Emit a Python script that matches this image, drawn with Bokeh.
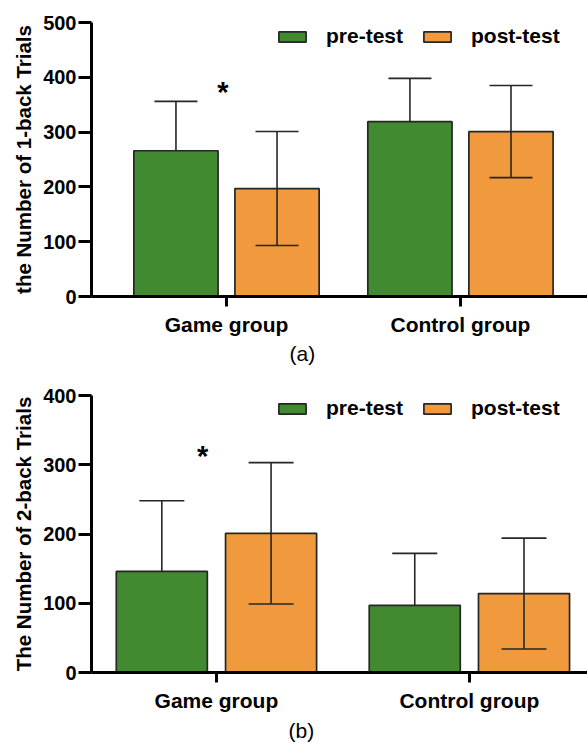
from bokeh.plotting import figure
from bokeh.models import (Range1d, FixedTicker, Whisker, TeeHead, ColumnDataSource,
                          Title)
from bokeh.layouts import column
from bokeh.core.properties import value
from bokeh.embed import file_html
from bokeh.resources import INLINE

# ---------------- data ----------------
groups = ["Game group", "Control group"]
series = ["pre-test", "post-test"]

# (a) 1-back trials
a_pre_mean = [266, 319]
a_pre_sd = [90, 79]
a_post_mean = [197, 301]
a_post_sd = [104, 84]
a_yticks = [0, 100, 200, 300, 400, 500]
a_star_x = [-0.015]
a_star_y = [374]

# (b) 2-back trials
b_pre_mean = [146, 97]
b_pre_sd = [102, 75]
b_post_mean = [201, 114]
b_post_sd = [102, 80]
b_yticks = [0, 100, 200, 300, 400]
b_star_x = [-0.055]
b_star_y = [312]

GREEN = "#418a2f"
ORANGE = "#f09a3d"
EDGE = "#262626"
FONT = "Liberation Sans"


def make_panel(pre_mean, pre_sd, post_mean, post_sd, yticks, ylabel, star_x, star_y,
               tag, tag_offset, tag_standoff, height, bt, frame_h, bl, xr, head, legend_y):
    width = 587
    p = figure(width=width, height=height, output_backend="svg", toolbar_location=None,
               x_range=Range1d(*xr), y_range=Range1d(yticks[0], yticks[-1]),
               min_border_top=bt, min_border_bottom=height - bt - frame_h,
               min_border_left=bl, min_border_right=0)
    p.outline_line_color = None
    p.grid.visible = False
    p.background_fill_color = "white"

    idx = list(range(len(groups)))
    off = 0.216
    bw = 0.36
    pre_x = [i - off for i in idx]
    post_x = [i + off for i in idx]

    p.vbar(x=pre_x, top=pre_mean, width=bw, bottom=0, fill_color=GREEN,
           line_color=EDGE, line_width=1.7, legend_label=series[0])
    p.vbar(x=post_x, top=post_mean, width=bw, bottom=0, fill_color=ORANGE,
           line_color=EDGE, line_width=1.7, legend_label=series[1])

    pre_src = ColumnDataSource(dict(x=pre_x, lower=pre_mean,
                                    upper=[m + s for m, s in zip(pre_mean, pre_sd)]))
    post_src = ColumnDataSource(dict(x=post_x,
                                     lower=[m - s for m, s in zip(post_mean, post_sd)],
                                     upper=[m + s for m, s in zip(post_mean, post_sd)]))
    p.add_layout(Whisker(source=pre_src, base="x", lower="lower", upper="upper",
                         line_color=EDGE, line_width=1.6, level="annotation",
                         upper_head=TeeHead(size=head, line_color=EDGE, line_width=1.6),
                         lower_head=None))
    p.add_layout(Whisker(source=post_src, base="x", lower="lower", upper="upper",
                         line_color=EDGE, line_width=1.6, level="annotation",
                         upper_head=TeeHead(size=head, line_color=EDGE, line_width=1.6),
                         lower_head=TeeHead(size=head, line_color=EDGE, line_width=1.6)))

    p.text(x=star_x, y=star_y, text=["*"], text_align="center", text_baseline="middle",
           text_font=value(FONT), text_font_style="bold", text_font_size="29px",
           text_color="black")

    # axes
    for ax in (p.xaxis[0], p.yaxis[0]):
        ax.axis_line_width = 3
        ax.axis_line_color = "black"
        ax.major_tick_line_width = 3
        ax.major_tick_line_color = "black"
        ax.major_tick_in = 0
        ax.minor_tick_line_color = None
        ax.major_label_text_font = FONT
        ax.major_label_text_font_style = "bold"
        ax.major_label_text_color = "black"

    xa = p.xaxis[0]
    xa.ticker = FixedTicker(ticks=idx)
    xa.major_label_overrides = {i: g for i, g in zip(idx, groups)}
    xa.major_tick_out = 10
    xa.major_label_standoff = 6
    xa.major_label_text_font_size = "21px"

    ya = p.yaxis[0]
    ya.ticker = FixedTicker(ticks=yticks)
    ya.major_tick_out = 13
    ya.major_label_standoff = 2
    ya.major_label_text_font_size = "20px"
    ya.axis_label = ylabel
    ya.axis_label_text_font = FONT
    ya.axis_label_text_font_style = "bold"
    ya.axis_label_text_font_size = "20.5px"
    ya.axis_label_text_color = "black"
    ya.axis_label_standoff = 5

    p.add_layout(Title(text=tag, align="left", offset=tag_offset, standoff=tag_standoff,
                       text_font=FONT, text_font_size="21px", text_font_style="normal",
                       text_color="black"), "below")

    lg = p.legend[0]
    lg.orientation = "horizontal"
    lg.location = (184, legend_y)
    lg.border_line_color = None
    lg.background_fill_alpha = 0
    lg.padding = 0
    lg.margin = 0
    lg.spacing = 17
    lg.glyph_width = 34
    lg.glyph_height = 13
    lg.label_standoff = 17
    lg.label_height = 20
    lg.label_text_font = FONT
    lg.label_text_font_style = "bold"
    lg.label_text_font_size = "21px"
    lg.label_text_color = "black"
    return p


p1 = make_panel(a_pre_mean, a_pre_sd, a_post_mean, a_post_sd, a_yticks,
                "the Number of 1-back Trials", a_star_x, a_star_y,
                "(a)", 198, 3, 368, 22, 274, 91, (-0.577, 1.543), 43, 248)
p2 = make_panel(b_pre_mean, b_pre_sd, b_post_mean, b_post_sd, b_yticks,
                "The Number of 2-back Trials", b_star_x, b_star_y,
                "(b)", 197, 4, 383, 27, 277, 87, (-0.494, 1.467), 45, 252)

layout = column(p1, p2, spacing=0)
open("out.html", "w").write(file_html(layout, INLINE))
